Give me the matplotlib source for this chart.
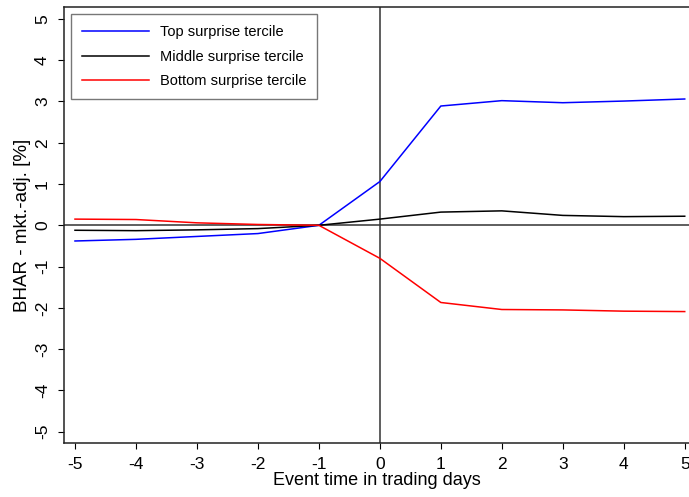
import matplotlib
matplotlib.use("Agg")
import matplotlib.pyplot as plt

plt.rcParams['font.family'] = ['Liberation Sans', 'DejaVu Sans']
plt.rcParams['axes.unicode_minus'] = False

days = [-5, -4, -3, -2, -1, 0, 1, 2, 3, 4, 5]
top = [-0.38, -0.34, -0.27, -0.20, 0.0, 1.06, 2.89, 3.02, 2.97, 3.01, 3.06]
middle = [-0.12, -0.13, -0.11, -0.08, 0.0, 0.15, 0.32, 0.35, 0.24, 0.21, 0.22]
bottom = [0.15, 0.14, 0.06, 0.02, 0.0, -0.80, -1.87, -2.04, -2.05, -2.08, -2.09]
labels = ["Top surprise tercile", "Middle surprise tercile", "Bottom surprise tercile"]
yticks = [-5, -4, -3, -2, -1, 0, 1, 2, 3, 4, 5]

fig = plt.figure(figsize=(6.89, 4.97), dpi=100)
ax = fig.add_axes([0.0929, 0.109, 0.9071, 0.877])

ax.axhline(0, color='#333333', lw=1.1, zorder=1)
ax.axvline(0, color='#333333', lw=1.1, zorder=1)

ax.plot(days, top, color='#0000ff', lw=1.1, label=labels[0])
ax.plot(days, middle, color='black', lw=1.1, label=labels[1])
ax.plot(days, bottom, color='#ff0000', lw=1.1, label=labels[2])

ax.set_xlim(-5.18, 5.07)
ax.set_ylim(-5.27, 5.29)
ax.set_xticks(days)
ax.set_yticks(yticks)
ax.set_yticklabels([str(v) for v in yticks], rotation=90, va='center')
ax.tick_params(direction='out', length=4, width=0.8, labelsize=12.5, colors='black')
ax.tick_params(axis='x', pad=6)
ax.tick_params(axis='y', pad=6)

ax.spines['right'].set_visible(False)
for s in ['left', 'bottom', 'top']:
    ax.spines[s].set_linewidth(1.1)
    ax.spines[s].set_color('#222222')

ax.set_xlabel("Event time in trading days", fontsize=13, labelpad=0)
ax.set_ylabel("BHAR - mkt.-adj. [%]", fontsize=13.5, labelpad=3)

leg = ax.legend(loc='upper left', bbox_to_anchor=(0.0107, 0.984), fontsize=10.5,
                frameon=True, fancybox=False, handlelength=4.6, handletextpad=0.75,
                labelspacing=0.74, borderpad=0.75, borderaxespad=0)
leg.get_frame().set_edgecolor('#555555')
leg.get_frame().set_linewidth(1.0)

fig.savefig("out.png", dpi=100)
